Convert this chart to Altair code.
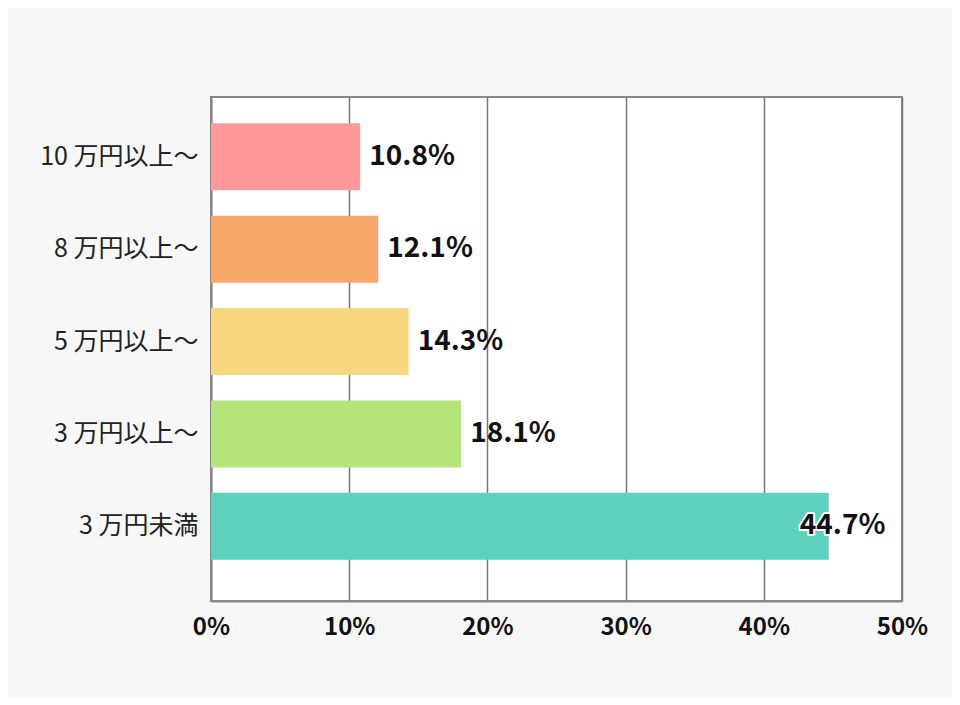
import altair as alt
import pandas as pd

categories = ["10 万円以上〜", "8 万円以上〜", "5 万円以上〜", "3 万円以上〜", "3 万円未満"]
values = [10.8, 12.1, 14.3, 18.1, 44.7]
colors = ["#FF9999", "#F8A66A", "#F7D67E", "#B4E47A", "#5DD0BE"]
labels = ["10.8%", "12.1%", "14.3%", "18.1%", "44.7%"]

df = pd.DataFrame({"cat": categories, "val": values, "label": labels})

FONT = "Noto Sans CJK JP"

y_enc = alt.Y("cat:N", sort=categories, title=None,
              scale=alt.Scale(paddingInner=0.275, paddingOuter=0.365, align=0.39),
              axis=alt.Axis(ticks=False, labelFontSize=25, labelColor="#222",
                            labelFont=FONT, labelPadding=13, domain=True,
                            domainColor="#888", domainWidth=2, grid=False))
x_enc = alt.X("val:Q", title=None,
              scale=alt.Scale(domain=[0, 50], nice=False),
              axis=alt.Axis(values=[0, 10, 20, 30, 40, 50], labelExpr="datum.value + '%'",
                            ticks=False, labelFontSize=24, labelFontWeight="bold",
                            labelColor="#111", labelFont=FONT, labelPadding=14,
                            labelFlush=False, labelOverlap=False,
                            domainColor="#888", domainWidth=2,
                            grid=True, gridColor="#777", gridWidth=1.5))

bars = alt.Chart(df).mark_bar().encode(
    y=y_enc, x=x_enc,
    color=alt.Color("cat:N", scale=alt.Scale(domain=categories, range=colors), legend=None),
)

small = alt.Chart(df).transform_filter("datum.val < 40").mark_text(
    align="left", baseline="middle", dx=9, fontSize=28, fontWeight="bold",
    font=FONT, color="#111").encode(y=alt.Y("cat:N", sort=categories), x="val:Q", text="label:N")

big_halo = alt.Chart(df).transform_filter("datum.val >= 40").mark_text(
    align="left", baseline="middle", dx=-29, fontSize=28, fontWeight="bold",
    font=FONT, color="#111", stroke="white", strokeWidth=4, strokeJoin="round").encode(
    y=alt.Y("cat:N", sort=categories), x="val:Q", text="label:N")
big = alt.Chart(df).transform_filter("datum.val >= 40").mark_text(
    align="left", baseline="middle", dx=-29, fontSize=28, fontWeight="bold",
    font=FONT, color="#111").encode(y=alt.Y("cat:N", sort=categories), x="val:Q", text="label:N")

chart = alt.layer(bars, small, big_halo, big).properties(
    width=691, height=504,
    background="#F7F7F7",
    padding={"left": 203, "top": 89, "right": 50, "bottom": 96},
    autosize=alt.AutoSizeParams(type="none"),
).configure_view(fill="white", stroke="#888", strokeWidth=2)

chart.save("out.html", embed_options={"renderer": "svg", "actions": False})
